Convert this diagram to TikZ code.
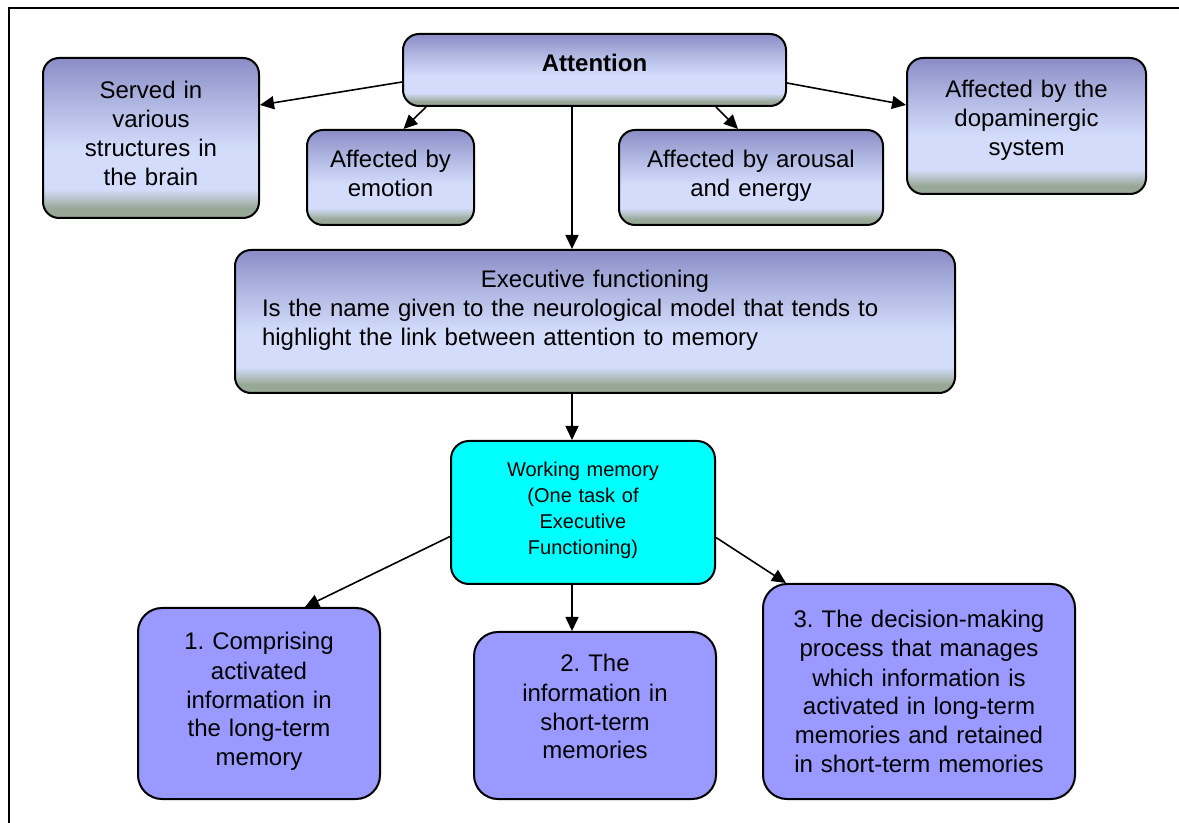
\documentclass[tikz,border=0pt]{standalone}
\usepackage{fontspec}
\setmainfont{Liberation Sans}
\usetikzlibrary{arrows.meta,positioning,calc}
\frenchspacing
\definecolor{gradtop}{HTML}{8A8DC6}
\definecolor{gradlight}{HTML}{D3DDFB}
\definecolor{gradbase}{HTML}{98A896}
\definecolor{wmcyan}{HTML}{00FFFF}
\definecolor{taskblue}{HTML}{9999FF}
\colorlet{gradmix}{gradlight!50!gradbase}
\colorlet{gradupper}{gradlight!55!gradtop}
\pgfdeclareverticalshading{conceptgrad}{100bp}{color(0bp)=(gradbase); color(25bp)=(gradbase);
  color(28bp)=(gradbase); color(31bp)=(gradmix); color(34bp)=(gradlight); color(46bp)=(gradlight);
  color(60bp)=(gradupper); color(75bp)=(gradtop); color(100bp)=(gradtop)}
\tikzset{
  concept/.style={draw=black, line width=1pt, rounded corners=8pt, shade, shading=conceptgrad,
    inner sep=2pt, align=center, font=\fontsize{12}{14.5}\selectfont, text=black, text height=8pt},
  rootconcept/.style={concept, font=\fontsize{12}{14.5}\selectfont\bfseries},
  % working memory and its three tasks
  wmbox/.style={draw=black, line width=1pt, rounded corners=9pt, fill=wmcyan,
    inner sep=2pt, align=center, font=\fontsize{10}{13}\selectfont, text height=8pt},
  taskbox/.style={draw=black, line width=1pt, rounded corners=12pt, fill=taskblue,
    inner sep=2pt, align=center, font=\fontsize{12}{14.5}\selectfont, text height=8pt},
  link/.style={-{Triangle[length=7pt,width=6.5pt]}, line width=0.8pt},
}
\begin{document}
\begin{tikzpicture}[x=0.5pt,y=-0.5pt]
  \useasboundingbox (0,0) rectangle (1179,823);
  \draw[line width=0.8pt] (9,823) -- (9,8) -- (1179,8);

  \node[rootconcept, anchor=north, minimum width=191.5pt, minimum height=36pt, text depth=6pt]
    (attn) at (594.5,33) {Attention};
  \node[concept, anchor=north, minimum width=108pt, minimum height=80pt, text width=100pt, text depth=47pt]
    (served) at (151,57) {Served in\\various\\structures in\\the brain};
  \node[concept, anchor=north, minimum width=83.5pt, minimum height=47.5pt, text width=78pt, text depth=17.5pt]
    (emotion) at (390.5,129) {Affected by\\emotion};
  \node[concept, anchor=north, minimum width=132pt, minimum height=47.5pt, text width=124pt, text depth=17.5pt]
    (arousal) at (751,129) {Affected by arousal\\and energy};
  \node[concept, anchor=north, minimum width=119.5pt, minimum height=68pt, text width=112pt, text depth=36pt]
    (dopa) at (1026.5,57) {Affected by the\\dopaminergic\\system};
  \node[concept, align=left, anchor=north, minimum width=360pt, minimum height=71.5pt, text width=333pt, text depth=41.5pt]
    (exec) at (595,249) {\makebox[\linewidth]{Executive functioning}\\
      Is the name given to the neurological model that tends to\\
      highlight the link between attention to memory};

  \node[wmbox, anchor=north, minimum width=132pt, minimum height=71.5pt, text width=124pt, text depth=43.5pt]
    (wm) at (583,440) {Working memory\\(One task of\\Executive\\Functioning)};
  \node[taskbox, anchor=north, minimum width=121pt, minimum height=95.5pt, text width=114pt, text depth=61.5pt]
    (task1) at (259,607) {1. Comprising\\activated\\information in\\the long-term\\memory};
  \node[taskbox, anchor=north, minimum width=121pt, minimum height=83.5pt, text width=114pt, text depth=51.5pt]
    (task2) at (595,631) {2. The\\information in\\short-term\\memories};
  \node[taskbox, anchor=north, minimum width=156pt, minimum height=107.5pt, text width=150pt, text depth=71.5pt]
    (task3) at (919,583) {3. The decision-making\\process that manages\\which information is\\activated in long-term\\memories and retained\\in short-term memories};

  % links from attention
  \draw[link] ($(attn.west)+(0,12)$) -- ($(served.east)+(0,-33)$);
  \draw[link] ($(attn.south west)+(24,0)$) -- ($(emotion.north)+(13,0)$);
  \draw[link] ($(attn.south)+(-22.5,0)$) -- ($(exec.north)+(-23,0)$);
  \draw[link] ($(attn.south east)+(-71,0)$) -- ($(arousal.north)+(-13,0)$);
  \draw[link] ($(attn.east)+(0,13)$) -- ($(dopa.west)+(0,-21)$);
  % down to working memory and its tasks
  \draw[link] ($(exec.south)+(-23,0)$) -- ($(wm.north)+(-11,0)$);
  \draw[link] ($(wm.west)+(0,24)$) -- ($(task1.north)+(46,0)$);
  \draw[link] ($(wm.south)+(-11,0)$) -- ($(task2.north)+(-23,0)$);
  \draw[link] ($(wm.east)+(0,25)$) -- ($(task3.north)+(-133,0)$);
\end{tikzpicture}
\end{document}
